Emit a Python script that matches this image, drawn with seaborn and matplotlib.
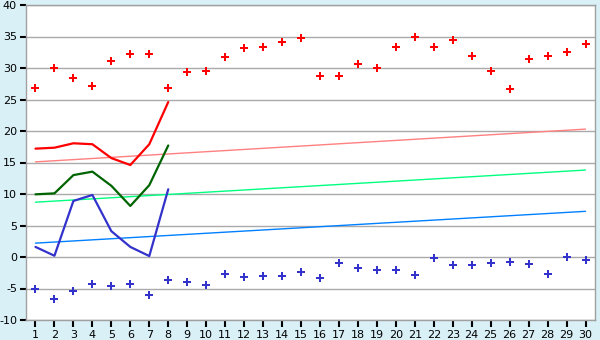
import matplotlib
matplotlib.use("Agg")
import matplotlib.pyplot as plt
import seaborn as sns
import pandas as pd
import numpy as np

days = list(range(1, 31))
max_points = [26.8, 30.0, 28.4, 27.1, 31.1, 32.2, 32.2, 26.8, 29.3, 29.5,
              31.7, 33.1, 33.3, 34.2, 34.7, 28.7, 28.7, 30.6, 30.0, 33.4,
              35.0, 33.3, 34.4, 31.9, 29.5, 26.6, 31.4, 31.9, 32.6, 33.8]
min_points = [-5.1, -6.6, -5.4, -4.3, -4.65, -4.3, -6.1, -3.7, -4.0, -4.5,
              -2.75, -3.2, -3.05, -3.05, -2.45, -3.4, -1.0, -1.8, -2.1, -2.1,
              -2.9, -0.2, -1.3, -1.3, -1.0, -0.85, -1.15, -2.75, -0.05, -0.5]
line_days = [1, 2, 3, 4, 5, 6, 7, 8]
red_line = [17.2, 17.35, 18.05, 17.9, 15.7, 14.6, 17.9, 24.6]
green_line = [9.95, 10.1, 13.0, 13.55, 11.3, 8.1, 11.4, 17.7]
blue_line = [1.6, 0.2, 8.9, 9.85, 4.1, 1.6, 0.15, 10.75]
trend_days = [1, 30]
red_trend = [15.1, 20.3]
green_trend = [8.7, 13.8]
blue_trend = [2.2, 7.25]
y_ticks = list(range(-10, 45, 5))

sns.set_theme(style="ticks")
plt.rcParams['font.family'] = ['DejaVu Sans']

fig = plt.figure(figsize=(6, 3.4), dpi=100)
fig.patch.set_facecolor("#D9F0F7")
ax = fig.add_axes([26/600, 20/340, 569/600, 315/340])
ax.set_facecolor("white")

for v in y_ticks:
    ax.axhline(v, color="#AAAAAA", lw=1.0, zorder=0)

sns.lineplot(x=trend_days, y=red_trend, color="#FF8080", lw=1.0, ax=ax)
sns.lineplot(x=trend_days, y=green_trend, color="#00FF80", lw=1.0, ax=ax)
sns.lineplot(x=trend_days, y=blue_trend, color="#0080FF", lw=1.0, ax=ax)

sns.lineplot(x=line_days, y=red_line, color="#FF0000", lw=1.6, ax=ax)
sns.lineplot(x=line_days, y=green_line, color="#006400", lw=1.6, ax=ax)
sns.lineplot(x=line_days, y=blue_line, color="#3333CC", lw=1.6, ax=ax)

sns.scatterplot(x=days, y=max_points, color="#FF0000", marker="P", s=32,
                linewidth=0, ax=ax, zorder=5)
sns.scatterplot(x=days, y=min_points, color="#3333CC", marker="P", s=32,
                linewidth=0, ax=ax, zorder=5)

ax.set_xlim(0.5, 30.5)
ax.set_ylim(-10, 40)
ax.set_xticks(days)
ax.set_xticklabels([str(d) for d in days])
ax.set_yticks(y_ticks)
ax.set_yticklabels([str(v) for v in y_ticks])
for s in ax.spines.values():
    s.set_visible(True)
    s.set_color("#A0A0A0")
    s.set_linewidth(1.0)
ax.tick_params(axis="both", which="major", length=4, width=1.5,
               color="#000000", labelsize=8, labelcolor="black", pad=2.5)
ax.tick_params(axis="x", length=5, pad=2)

fig.savefig("out.png", dpi=100, facecolor=fig.get_facecolor())
